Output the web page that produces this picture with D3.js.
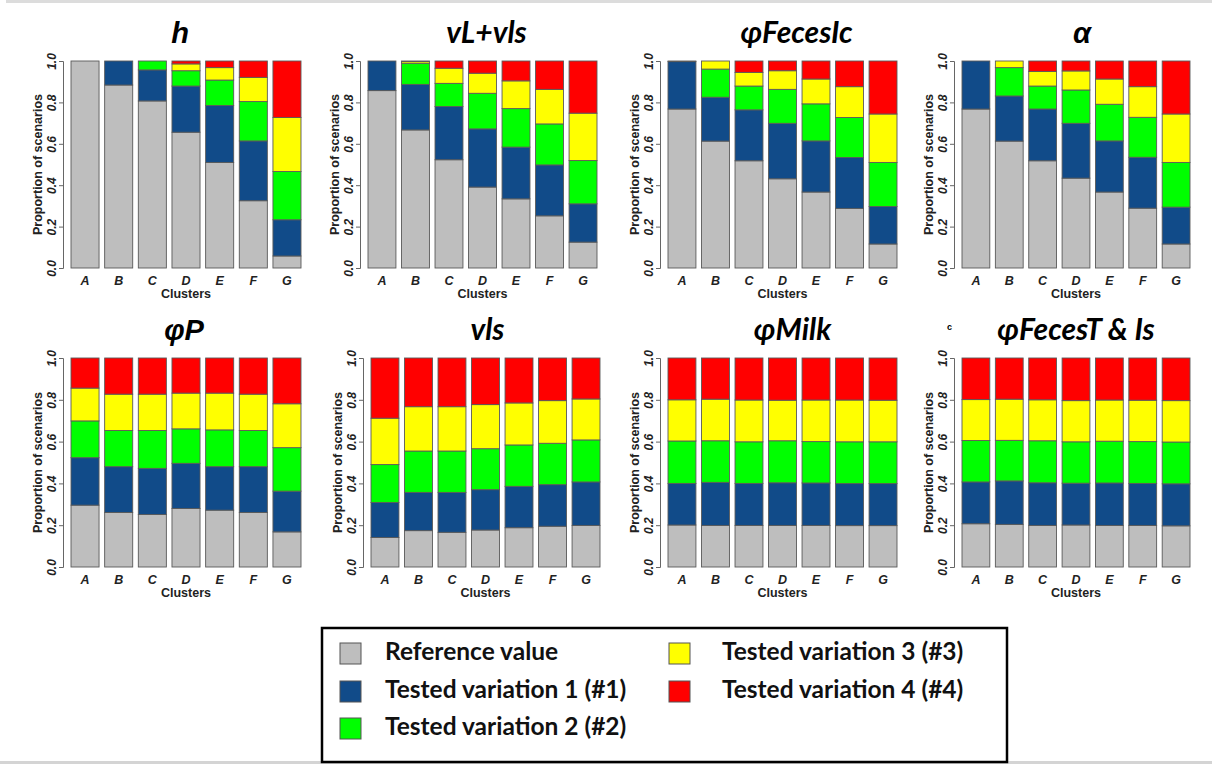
<!DOCTYPE html>
<html>
<head>
<meta charset="UTF-8">
<style>
    * { margin: 0; padding: 0; }
    body { background: #fff; width: 1212px; height: 764px; overflow: hidden; }
    svg { display: block; }
</style>
<script src="https://d3js.org/d3.v7.min.js"></script>
</head>
<body>
<svg id="chart" width="1212" height="764"></svg>
<script>
// ---- data ----
var clusters = ["A", "B", "C", "D", "E", "F", "G"];
var seriesNames = ["Reference value", "Tested variation 1 (#1)", "Tested variation 2 (#2)",
                   "Tested variation 3 (#3)", "Tested variation 4 (#4)"];
var seriesColors = ["#bebebe", "#114b89", "#00ff00", "#ffff00", "#ff0000"];
var yTicks = [0, 0.2, 0.4, 0.6, 0.8, 1.0];

// each panel: [reference, #1, #2, #3, #4] proportions per cluster A..G
var hVals = [
    [1.000, 0.884, 0.807, 0.656, 0.510, 0.325, 0.058],
    [0.000, 0.116, 0.150, 0.223, 0.275, 0.289, 0.175],
    [0.000, 0.000, 0.043, 0.074, 0.123, 0.190, 0.233],
    [0.000, 0.000, 0.000, 0.033, 0.060, 0.117, 0.261],
    [0.000, 0.000, 0.000, 0.014, 0.032, 0.079, 0.273]
];
var vLvlsVals = [
    [0.857, 0.667, 0.523, 0.391, 0.334, 0.252, 0.125],
    [0.143, 0.220, 0.257, 0.281, 0.250, 0.246, 0.185],
    [0.000, 0.102, 0.112, 0.172, 0.186, 0.198, 0.209],
    [0.000, 0.008, 0.073, 0.097, 0.134, 0.167, 0.229],
    [0.000, 0.003, 0.035, 0.059, 0.096, 0.137, 0.252]
];
var fecesIcVals = [
    [0.768, 0.613, 0.518, 0.431, 0.367, 0.288, 0.116],
    [0.229, 0.212, 0.246, 0.268, 0.247, 0.246, 0.181],
    [0.003, 0.136, 0.115, 0.164, 0.179, 0.193, 0.213],
    [0.000, 0.039, 0.066, 0.090, 0.120, 0.149, 0.234],
    [0.000, 0.000, 0.055, 0.047, 0.087, 0.124, 0.256]
];
var alphaVals = [
    [0.768, 0.613, 0.518, 0.434, 0.367, 0.289, 0.116],
    [0.232, 0.218, 0.250, 0.265, 0.247, 0.246, 0.178],
    [0.000, 0.137, 0.111, 0.161, 0.177, 0.193, 0.216],
    [0.000, 0.032, 0.070, 0.092, 0.122, 0.148, 0.234],
    [0.000, 0.000, 0.051, 0.048, 0.087, 0.124, 0.256]
];
var phiPVals = [
    [0.296, 0.261, 0.251, 0.280, 0.272, 0.261, 0.168],
    [0.227, 0.219, 0.221, 0.216, 0.208, 0.219, 0.195],
    [0.176, 0.173, 0.181, 0.165, 0.176, 0.173, 0.208],
    [0.157, 0.174, 0.174, 0.171, 0.176, 0.174, 0.210],
    [0.144, 0.173, 0.173, 0.168, 0.168, 0.173, 0.219]
];
var vlsVals = [
    [0.141, 0.174, 0.166, 0.177, 0.188, 0.195, 0.199],
    [0.168, 0.183, 0.191, 0.193, 0.198, 0.199, 0.208],
    [0.181, 0.198, 0.198, 0.196, 0.198, 0.198, 0.201],
    [0.222, 0.212, 0.212, 0.211, 0.201, 0.204, 0.196],
    [0.288, 0.233, 0.233, 0.223, 0.215, 0.204, 0.196]
];
var milkVals = [
    [0.201, 0.199, 0.199, 0.199, 0.199, 0.198, 0.198],
    [0.199, 0.206, 0.201, 0.204, 0.203, 0.201, 0.201],
    [0.203, 0.199, 0.199, 0.201, 0.198, 0.200, 0.200],
    [0.197, 0.199, 0.200, 0.194, 0.199, 0.200, 0.199],
    [0.200, 0.197, 0.201, 0.202, 0.201, 0.201, 0.202]
];
var fecesTVals = [
    [0.207, 0.204, 0.199, 0.201, 0.199, 0.199, 0.197],
    [0.200, 0.208, 0.204, 0.200, 0.203, 0.201, 0.201],
    [0.198, 0.194, 0.201, 0.198, 0.200, 0.200, 0.200],
    [0.196, 0.197, 0.196, 0.197, 0.197, 0.198, 0.198],
    [0.199, 0.197, 0.200, 0.204, 0.201, 0.202, 0.204]
];

var titles = ["h", "vL+vls", "\u03c6FecesIc", "\u03b1", "\u03c6P", "vls", "\u03c6Milk", "\u03c6FecesT & Is"];
var panelVals = [hVals, vLvlsVals, fecesIcVals, alphaVals, phiPVals, vlsVals, milkVals, fecesTVals];

// ---- layout ----
var arial = "'Liberation Sans', Arial, sans-serif";
var calibri = "Lato, 'Open Sans', sans-serif";
var panels = [
    {x0: 71,  x1: 301,  top: 61,  bot: 268, tdx: -6, font: arial,   size: 29},
    {x0: 368, x1: 597,  top: 61,  bot: 268, tdx: 4,  font: calibri, size: 30},
    {x0: 668, x1: 897,  top: 61,  bot: 268, tdx: 14, font: calibri, size: 30},
    {x0: 962, x1: 1190, top: 61,  bot: 268, tdx: 6,  font: arial,   size: 29},
    {x0: 71,  x1: 301,  top: 358, bot: 567, tdx: -2, font: arial,   size: 29},
    {x0: 371, x1: 600,  top: 358, bot: 567, tdx: 2,  font: calibri, size: 30},
    {x0: 668, x1: 897,  top: 358, bot: 567, tdx: 10, font: calibri, size: 30},
    {x0: 962, x1: 1190, top: 358, bot: 567, tdx: 0,  font: calibri, size: 30}
];

var svg = d3.select("#chart");

// thin grey frame lines of the original figure
svg.append("rect").attr("x", 6).attr("y", 0).attr("width", 1206).attr("height", 3).attr("fill", "#dcdcdc");
svg.append("rect").attr("x", 0).attr("y", 761).attr("width", 1212).attr("height", 3).attr("fill", "#d4d4d4");

var stack = d3.stack().keys(d3.range(seriesNames.length)).offset(d3.stackOffsetExpand);

panels.forEach(function (p, pi) {
    var vals = panelVals[pi];
    var rows = clusters.map(function (c, ci) {
        var r = {cluster: c};
        vals.forEach(function (s, si) { r[si] = s[ci]; });
        return r;
    });

    var x = d3.scaleBand().domain(clusters).range([p.x0, p.x1]).paddingInner(0.2 / 1.2).paddingOuter(0);
    var y = d3.scaleLinear().domain([0, 1]).range([p.bot, p.top]);
    var g = svg.append("g");

    g.selectAll(".layer")
        .data(stack(rows))
        .enter().append("g")
        .attr("fill", function (d) { return seriesColors[d.key]; })
        .selectAll("rect")
        .data(function (d) { return d; })
        .enter().append("rect")
        .attr("x", function (d) { return x(d.data.cluster); })
        .attr("y", function (d) { return y(d[1]); })
        .attr("width", x.bandwidth())
        .attr("height", function (d) { return Math.max(0, y(d[0]) - y(d[1])); })
        .attr("stroke", "#5a5a5a")
        .attr("stroke-width", 0.9);

    // y axis
    var ax = g.append("g")
        .attr("transform", "translate(" + (p.x0 - 8) + ",0)")
        .call(d3.axisLeft(y).tickValues(yTicks).tickSize(4).tickFormat(d3.format(".1f")));
    ax.select(".domain").attr("stroke", "#666").attr("stroke-width", 1);
    ax.selectAll(".tick line").attr("stroke", "#666");
    ax.selectAll(".tick text")
        .attr("transform", "rotate(-90)")
        .attr("x", 0).attr("y", -7).attr("dy", 0)
        .attr("text-anchor", "middle")
        .attr("font-family", arial).attr("font-size", 12)
        .attr("font-weight", "bold").attr("font-style", "italic")
        .attr("fill", "#222");

    // y label
    g.append("text")
        .attr("transform", "translate(" + (p.x0 - 29) + "," + ((p.top + p.bot) / 2) + ") rotate(-90)")
        .attr("text-anchor", "middle")
        .attr("font-family", arial).attr("font-size", 12.5).attr("font-weight", "bold")
        .attr("fill", "#222")
        .text("Proportion of scenarios");

    // x tick labels (no axis line in the original)
    g.selectAll(".xl")
        .data(clusters)
        .enter().append("text")
        .attr("x", function (d) { return x(d) + x.bandwidth() / 2; })
        .attr("y", p.bot + 17)
        .attr("text-anchor", "middle")
        .attr("font-family", arial).attr("font-size", 12.5)
        .attr("font-weight", "bold").attr("font-style", "italic")
        .attr("fill", "#222")
        .text(function (d) { return d; });

    g.append("text")
        .attr("x", (p.x0 + p.x1) / 2)
        .attr("y", p.bot + 30)
        .attr("text-anchor", "middle")
        .attr("font-family", arial).attr("font-size", 12.5).attr("font-weight", "bold")
        .attr("fill", "#222")
        .text("Clusters");

    // title
    g.append("text")
        .attr("x", (p.x0 + p.x1) / 2 + p.tdx)
        .attr("y", p.top - 18)
        .attr("text-anchor", "middle")
        .attr("font-family", p.font).attr("font-size", p.size)
        .attr("font-weight", "bold").attr("font-style", "italic")
        .attr("fill", "#000")
        .text(titles[pi]);
});

// stray panel letter next to the last title
svg.append("text").attr("x", 947).attr("y", 330)
    .attr("font-family", arial).attr("font-size", 9).attr("font-weight", "bold")
    .text("c");

// ---- legend ----
var leg = svg.append("g");
leg.append("rect")
    .attr("x", 322).attr("y", 628).attr("width", 685).attr("height", 134)
    .attr("fill", "#fff").attr("stroke", "#000").attr("stroke-width", 2.5);

var legPos = [
    {sx: 340, tx: 385, y: 652},
    {sx: 340, tx: 385, y: 690},
    {sx: 340, tx: 385, y: 727},
    {sx: 669, tx: 722, y: 652},
    {sx: 669, tx: 722, y: 690}
];
var li = leg.selectAll(".li").data(seriesNames).enter().append("g");
li.append("rect")
    .attr("x", function (d, i) { return legPos[i].sx; })
    .attr("y", function (d, i) { return legPos[i].y - 9; })
    .attr("width", 21).attr("height", 21)
    .attr("fill", function (d, i) { return seriesColors[i]; })
    .attr("stroke", "#555").attr("stroke-width", 1);
li.append("text")
    .attr("x", function (d, i) { return legPos[i].tx; })
    .attr("y", function (d, i) { return legPos[i].y + 8; })
    .attr("font-family", calibri).attr("font-size", 24.5).attr("font-weight", "bold")
    .attr("fill", "#111")
    .text(function (d) { return d; });
</script>
</body>
</html>
